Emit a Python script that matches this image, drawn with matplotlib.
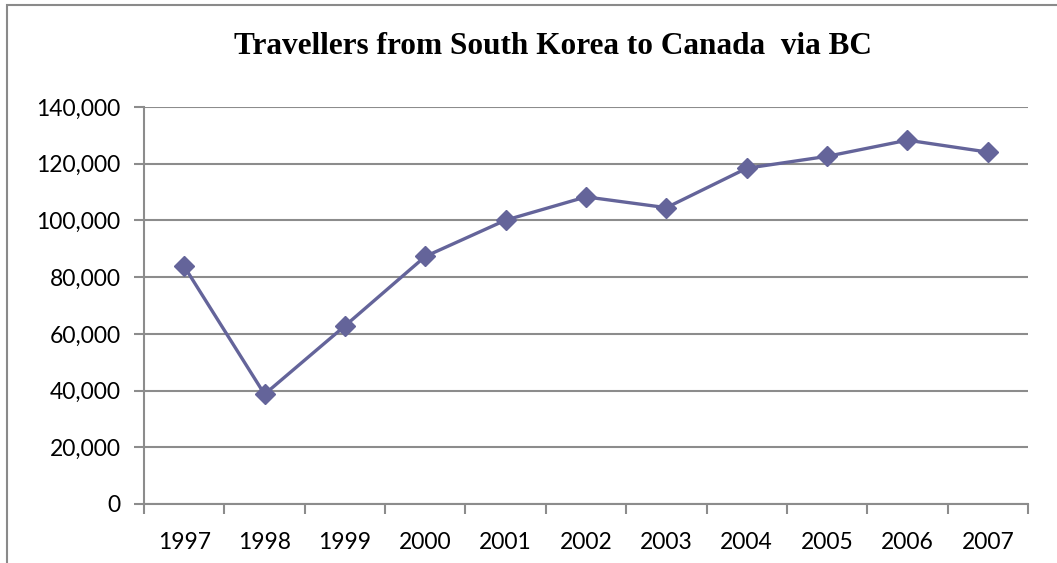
import matplotlib
matplotlib.use('Agg')
import matplotlib.pyplot as plt
from matplotlib.patches import Rectangle
from matplotlib.ticker import FuncFormatter, FixedLocator

# Travellers from South Korea entering Canada through BC
years = ['1997', '1998', '1999', '2000', '2001', '2002',
         '2003', '2004', '2005', '2006', '2007']
travellers = [83800, 38700, 62800, 87300, 100100, 108300,
              104500, 118400, 122600, 128300, 124100]

line_color = '#64649a'
grid_color = '#8c8c8c'

fig = plt.figure(figsize=(10.57, 5.63), dpi=100)
W, H = 1057, 563
ax = fig.add_axes([144 / W, 1 - 504 / H, (1028 - 144) / W, (504 - 107) / H])

x = list(range(len(years)))
ax.plot(x, travellers, color=line_color, lw=2.4, marker='D', markersize=10.5,
        markerfacecolor=line_color, markeredgecolor=line_color, zorder=3)

ax.set_xlim(-0.5, len(years) - 0.5)
ax.set_ylim(0, 140000)
ax.set_yticks(range(0, 140001, 20000))
ax.yaxis.set_major_formatter(FuncFormatter(lambda v, p: f'{int(v):,}'))
ax.yaxis.grid(True, color=grid_color, lw=1.5)
ax.set_axisbelow(True)

ax.set_xticks(x)
ax.set_xticklabels(years)
ax.xaxis.set_minor_locator(FixedLocator([i - 0.5 for i in range(len(years) + 1)]))
ax.tick_params(axis='x', which='major', length=0, pad=20, labelsize=16.5)
ax.tick_params(axis='x', which='minor', length=7, width=1.5, color=grid_color)
ax.tick_params(axis='y', length=7, width=1.5, color=grid_color, pad=10, labelsize=16.5)

for lbl in ax.get_xticklabels() + ax.get_yticklabels():
    lbl.set_fontfamily('Lato')

for side in ['top', 'right']:
    ax.spines[side].set_visible(False)
for side in ['left', 'bottom']:
    ax.spines[side].set_color(grid_color)
    ax.spines[side].set_linewidth(1.5)

fig.text(553 / W, 1 - 46 / H, 'Travellers from South Korea to Canada  via BC',
         ha='center', va='center', fontsize=22.5, fontweight='bold',
         family='Liberation Serif')

# chart frame
fig.patches.append(Rectangle((7 / W, -0.1), 1.2, 1 - 5 / H + 0.1,
                             transform=fig.transFigure, fill=False,
                             edgecolor='#8a8a8a', lw=1.5))

fig.savefig('out.png', dpi=100)
